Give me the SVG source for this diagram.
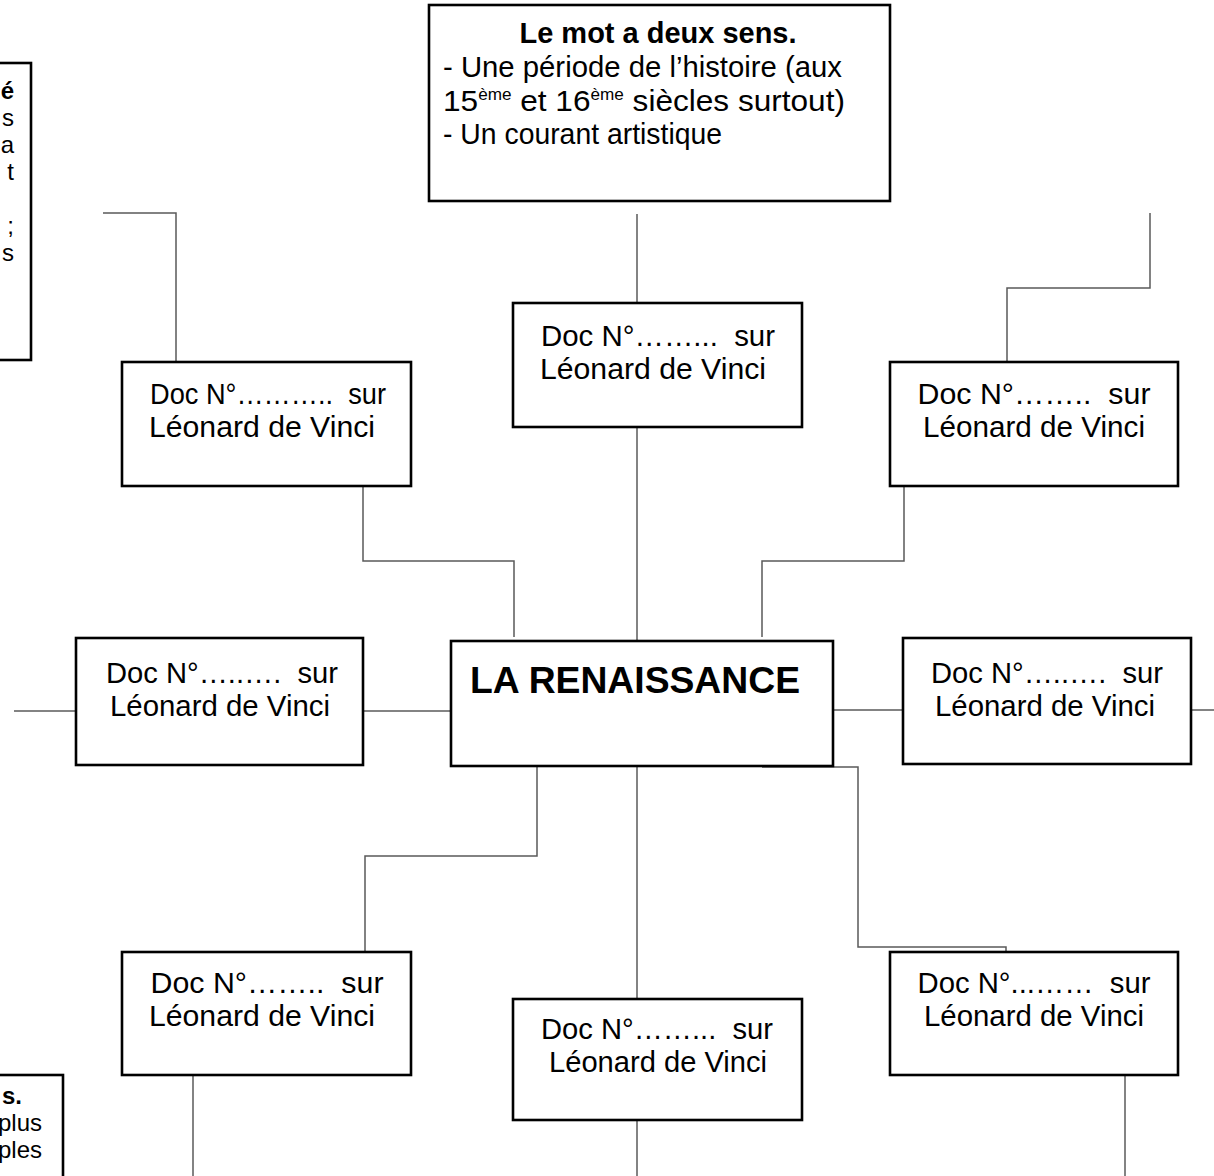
<svg xmlns="http://www.w3.org/2000/svg" width="1214" height="1176" viewBox="0 0 1214 1176">
<style>
  .box { fill: #ffffff; stroke: #000000; stroke-width: 2.6; }
  .conn { fill: none; stroke: #5a5a5a; stroke-width: 1.5; }
  .t { font-family: "Liberation Sans", Arial, sans-serif; font-size: 29.5px; fill: #000000; }
  .n { font-family: "Liberation Sans", Arial, sans-serif; font-size: 24px; fill: #000000; }
  .b { font-weight: bold; }
  .m { text-anchor: middle; }
  .e { text-anchor: end; }
  .sup { font-size: 16px; }
</style>
<rect width="1214" height="1176" fill="#ffffff"/>

<g id="connectors">
  <path class="conn" d="M637,214 V303"/>
  <path class="conn" d="M637,427 V640"/>
  <path class="conn" d="M103,213 H176 V362"/>
  <path class="conn" d="M1150,213 V288 H1007 V362"/>
  <path class="conn" d="M363,486 V561 H514 V637"/>
  <path class="conn" d="M904,486 V561 H762 V637"/>
  <path class="conn" d="M14,711 H76"/>
  <path class="conn" d="M363,711 H451"/>
  <path class="conn" d="M833,710 H903"/>
  <path class="conn" d="M1191,710 H1214"/>
  <path class="conn" d="M537,766 V856 H365 V952"/>
  <path class="conn" d="M637,766 V999"/>
  <path class="conn" d="M762,767 H858 V947 H1006 V952"/>
  <path class="conn" d="M193,1075 V1176"/>
  <path class="conn" d="M637,1120 V1176"/>
  <path class="conn" d="M1125,1075 V1176"/>
</g>

<g id="note-left-top">
  <rect class="box" x="-10" y="63" width="41" height="297"/>
  <text class="n b e" x="14" y="99">é</text>
  <text class="n e" x="14" y="126">s</text>
  <text class="n e" x="14" y="153">a</text>
  <text class="n e" x="14" y="180">t</text>
  <text class="n e" x="14" y="234">;</text>
  <text class="n e" x="14" y="261">s</text>
</g>

<g id="note-left-bottom">
  <rect class="box" x="-10" y="1075" width="73" height="120"/>
  <text class="n b e" x="22" y="1104">s.</text>
  <text class="n e" x="42" y="1131">plus</text>
  <text class="n e" x="42" y="1158">ples</text>
</g>

<g id="definition">
  <rect class="box" x="429" y="5" width="461" height="196"/>
  <text class="t b m" x="658" y="43" textLength="277" lengthAdjust="spacingAndGlyphs">Le mot a deux sens.</text>
  <text class="t" x="443" y="77" textLength="399" lengthAdjust="spacingAndGlyphs">- Une période de l’histoire (aux</text>
  <text class="t" x="443" y="111" textLength="402" lengthAdjust="spacingAndGlyphs">15<tspan class="sup" dy="-11">ème</tspan><tspan dy="11"> et 16</tspan><tspan class="sup" dy="-11">ème</tspan><tspan dy="11"> siècles surtout)</tspan></text>
  <text class="t" x="443" y="144" textLength="279" lengthAdjust="spacingAndGlyphs">- Un courant artistique</text>
</g>

<g id="doc-top">
  <rect class="box" x="513" y="303" width="289" height="124"/>
  <text class="t m" x="658" y="346" textLength="234" lengthAdjust="spacingAndGlyphs">Doc N°……... &#160;sur</text>
  <text class="t m" x="653" y="379" textLength="226" lengthAdjust="spacingAndGlyphs">Léonard de Vinci</text>
</g>

<g id="doc-top-left">
  <rect class="box" x="122" y="362" width="289" height="124"/>
  <text class="t m" x="268" y="404" textLength="236" lengthAdjust="spacingAndGlyphs">Doc N°……….. &#160;sur</text>
  <text class="t m" x="262" y="437" textLength="226" lengthAdjust="spacingAndGlyphs">Léonard de Vinci</text>
</g>

<g id="doc-top-right">
  <rect class="box" x="890" y="362" width="288" height="124"/>
  <text class="t m" x="1034" y="404" textLength="233" lengthAdjust="spacingAndGlyphs">Doc N°…….. &#160;sur</text>
  <text class="t m" x="1034" y="437" textLength="222" lengthAdjust="spacingAndGlyphs">Léonard de Vinci</text>
</g>

<g id="doc-left">
  <rect class="box" x="76" y="638" width="287" height="127"/>
  <text class="t m" x="222" y="683" textLength="232" lengthAdjust="spacingAndGlyphs">Doc N°…..…. &#160;sur</text>
  <text class="t m" x="220" y="716" textLength="220" lengthAdjust="spacingAndGlyphs">Léonard de Vinci</text>
</g>

<g id="center">
  <rect class="box" x="451" y="641" width="382" height="125"/>
  <text class="t b m" x="635" y="693" style="font-size:37px" textLength="330" lengthAdjust="spacingAndGlyphs">LA RENAISSANCE</text>
</g>

<g id="doc-right">
  <rect class="box" x="903" y="638" width="288" height="126"/>
  <text class="t m" x="1047" y="683" textLength="232" lengthAdjust="spacingAndGlyphs">Doc N°…..…. &#160;sur</text>
  <text class="t m" x="1045" y="716" textLength="220" lengthAdjust="spacingAndGlyphs">Léonard de Vinci</text>
</g>

<g id="doc-bottom-left">
  <rect class="box" x="122" y="952" width="289" height="123"/>
  <text class="t m" x="267" y="993" textLength="233" lengthAdjust="spacingAndGlyphs">Doc N°…….. &#160;sur</text>
  <text class="t m" x="262" y="1026" textLength="226" lengthAdjust="spacingAndGlyphs">Léonard de Vinci</text>
</g>

<g id="doc-bottom">
  <rect class="box" x="513" y="999" width="289" height="121"/>
  <text class="t m" x="657" y="1039" textLength="232" lengthAdjust="spacingAndGlyphs">Doc N°……... &#160;sur</text>
  <text class="t m" x="658" y="1072" textLength="218" lengthAdjust="spacingAndGlyphs">Léonard de Vinci</text>
</g>

<g id="doc-bottom-right">
  <rect class="box" x="890" y="952" width="288" height="123"/>
  <text class="t m" x="1034" y="993" textLength="233" lengthAdjust="spacingAndGlyphs">Doc N°...…… &#160;sur</text>
  <text class="t m" x="1034" y="1026" textLength="220" lengthAdjust="spacingAndGlyphs">Léonard de Vinci</text>
</g>
</svg>
